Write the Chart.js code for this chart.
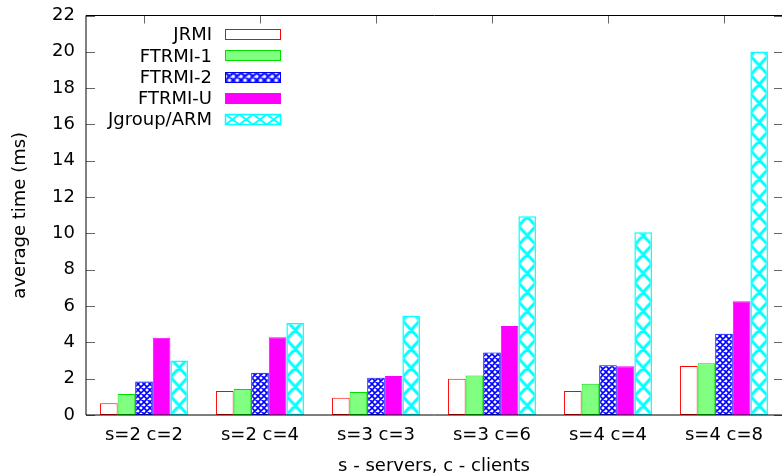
<!DOCTYPE html>
<html>
<head>
<meta charset="utf-8">
<script src="https://cdn.jsdelivr.net/npm/chart.js@4.4.1/dist/chart.umd.min.js"></script>
<style>
html,body{margin:0;padding:0;background:#fff;}
#wrap{width:782px;height:476px;}
canvas{display:block;}
</style>
</head>
<body>
<div id="wrap"><canvas id="c" width="782" height="476"></canvas></div>
<script>
// ---- data ----
const categories = ["s=2 c=2", "s=2 c=4", "s=3 c=3", "s=3 c=6", "s=4 c=4", "s=4 c=8"];
const seriesNames = ["JRMI", "FTRMI-1", "FTRMI-2", "FTRMI-U", "Jgroup/ARM"];
const jrmi   = [0.65, 1.32, 0.95, 2.00, 1.32, 2.70];
const ftrmi1 = [1.15, 1.43, 1.26, 2.17, 1.72, 2.85];
const ftrmi2 = [1.84, 2.33, 2.05, 3.44, 2.74, 4.47];
const ftrmiU = [4.25, 4.28, 2.15, 4.90, 2.69, 6.27];
const jgroup = [3.00, 5.07, 5.47, 10.95, 10.06, 20.02];
const yTickValues = [0, 2, 4, 6, 8, 10, 12, 14, 16, 18, 20, 22];
const xTitle = "s - servers, c - clients";
const yTitle = "average time (ms)";

// ---- styling ----
const FONT = {family: "DejaVu Sans", size: 18};
const CAT_PCT = 0.758;
const canvas = document.getElementById('c');
const ctx = canvas.getContext('2d');

function makeTile(color, w, h, lw) {
  const c = document.createElement('canvas');
  c.width = w; c.height = h;
  const g = c.getContext('2d');
  g.fillStyle = '#fff';
  g.fillRect(0, 0, w, h);
  g.strokeStyle = color;
  g.lineWidth = lw;
  g.beginPath();
  for (let k = -2; k <= 2; k++) {
    g.moveTo(k * w, 0); g.lineTo(k * w + w, h);
    g.moveTo(k * w + w, 0); g.lineTo(k * w, h);
  }
  g.stroke();
  return c;
}
const blueTile = makeTile('#0000ff', 6, 6, 1.6);
const cyanTile = makeTile('#00ffff', 18, 18, 3);
const bluePattern = ctx.createPattern(blueTile, 'repeat');
const cyanFlat = ctx.createPattern(cyanTile, 'repeat');

function cyanForBar(c) {
  const chart = c.chart;
  const xs = chart.scales && chart.scales.x;
  if (!xs || c.type !== 'data' || !chart.chartArea) return cyanFlat;
  const catW = xs.width / categories.length;
  const barW = catW * CAT_PCT / seriesNames.length;
  const left = xs.getPixelForValue(c.dataIndex) - catW * CAT_PCT / 2 + c.datasetIndex * barW;
  if (!isFinite(left)) return cyanFlat;
  const p = ctx.createPattern(cyanTile, 'repeat');
  p.setTransform(new DOMMatrix().translateSelf(left, chart.chartArea.bottom).scaleSelf(barW / 18, 1.05));
  return p;
}

const styles = [
  {bg: '#ffffff', border: '#ff0000', bw: 1},
  {bg: '#80ff80', border: '#00e000', bw: 1},
  {bg: bluePattern, border: '#0000ff', bw: 1},
  {bg: '#ff00ff', border: '#ff00ff', bw: 1},
  {bg: cyanForBar, border: '#00ffff', bw: 1.5}
];
const seriesValues = [jrmi, ftrmi1, ftrmi2, ftrmiU, jgroup];

const datasets = seriesNames.map((name, i) => ({
  label: name,
  data: seriesValues[i],
  backgroundColor: styles[i].bg,
  borderColor: styles[i].border,
  borderWidth: styles[i].bw,
  borderSkipped: false,
  categoryPercentage: CAT_PCT,
  barPercentage: 1.0
}));

// frame, inward ticks, legend
const framePlugin = {
  id: 'frame',
  beforeDatasetsDraw(chart) {
    const {ctx: g, chartArea: a, scales: {x}} = chart;
    g.save();
    g.strokeStyle = '#666';
    g.lineWidth = 1;
    g.beginPath();
    categories.forEach((_, i) => {
      const px = Math.round(x.getPixelForValue(i)) + 0.5;
      g.moveTo(px, a.bottom); g.lineTo(px, a.bottom - 8);
    });
    g.stroke();
    g.restore();
  },
  afterDatasetsDraw(chart) {
    const {ctx: g, chartArea: a, scales: {x, y}} = chart;
    g.save();
    g.strokeStyle = '#666';
    g.lineWidth = 1;
    g.beginPath();
    yTickValues.forEach(v => {
      const py = Math.round(y.getPixelForValue(v)) + 0.5;
      g.moveTo(a.left, py); g.lineTo(a.left + 9, py);
      g.moveTo(a.right, py); g.lineTo(a.right - 8, py);
    });
    categories.forEach((_, i) => {
      const px = Math.round(x.getPixelForValue(i)) + 0.5;
      g.moveTo(px, a.top); g.lineTo(px, a.top + 8);
    });
    g.stroke();
    g.strokeStyle = '#000';
    g.beginPath();
    g.moveTo(a.right + 2, a.top); g.lineTo(a.left, a.top); g.lineTo(a.left, a.bottom); g.lineTo(a.right + 2, a.bottom);
    g.stroke();

    g.font = FONT.size + 'px ' + FONT.family;
    g.textAlign = 'right';
    g.textBaseline = 'middle';
    seriesNames.forEach((name, i) => {
      const cy = 34 + i * 21.33;
      g.fillStyle = '#000';
      g.fillText(name, 212, cy + 1.5);
      const bx = 225.5, by = Math.round(cy - 5) + 0.5, bwid = 55, bh = 10;
      let fill = styles[i].bg;
      if (i === 4) {
        const p = g.createPattern(cyanTile, 'repeat');
        p.setTransform(new DOMMatrix().translateSelf(bx, by).scaleSelf(13.75 / 18, 10 / 18));
        fill = p;
      } else if (i === 2) {
        const p = g.createPattern(blueTile, 'repeat');
        p.setTransform(new DOMMatrix().translateSelf(bx, by).scaleSelf(1.3, 1.3));
        fill = p;
      }
      g.fillStyle = fill;
      g.fillRect(bx, by, bwid, bh);
      g.strokeStyle = styles[i].border;
      g.lineWidth = i === 4 ? 1.5 : 1;
      g.strokeRect(bx, by, bwid, bh);
    });
    g.restore();
  }
};

new Chart(canvas, {
  type: 'bar',
  data: {labels: categories, datasets: datasets},
  plugins: [framePlugin],
  options: {
    responsive: false,
    animation: false,
    devicePixelRatio: 1,
    layout: {padding: {top: 15.5, right: 0, bottom: 0, left: 0}},
    plugins: {legend: {display: false}, tooltip: {enabled: false}},
    font: FONT,
    scales: {
      x: {
        type: 'category',
        grid: {display: false, drawTicks: false},
        border: {display: false},
        ticks: {color: '#000', font: FONT, padding: 9.5, maxRotation: 0, autoSkip: false},
        title: {display: true, text: xTitle, color: '#000', font: FONT, padding: {top: 0, bottom: -1}},
        afterFit(s) { s.height = 61; s.paddingLeft = 0; s.paddingRight = 0; }
      },
      y: {
        min: 0, max: 22,
        grid: {display: false, drawTicks: false},
        border: {display: false},
        afterBuildTicks(s) { s.ticks = yTickValues.map(v => ({value: v})); },
        ticks: {color: '#000', font: FONT, padding: 11},
        title: {display: true, text: yTitle, color: '#000', font: FONT, padding: {top: 10, bottom: 0}},
        afterFit(s) { s.width = 86; s.paddingTop = 0; s.paddingBottom = 0; }
      }
    }
  }
});
</script>
</body>
</html>
